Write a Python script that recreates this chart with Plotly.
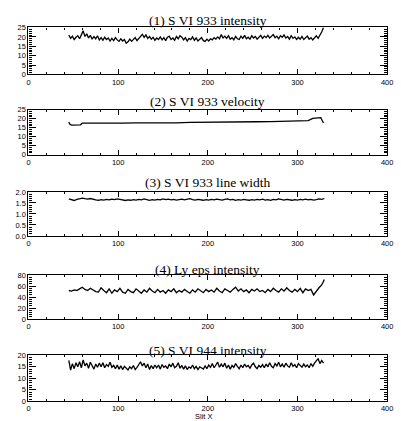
import plotly.graph_objs as go

W, H = 401, 421

# sampling grid of the slit positions
x_fine = list(range(45, 330, 2))      # panels 1 and 5
x_coarse = list(range(45, 331, 3))    # panels 3 and 4

s6_933_int = [
    21.0, 19.2, 20.4, 18.6, 19.8, 20.6, 19.0, 21.4, 23.2, 20.2,
    21.6, 19.4, 20.8, 18.8, 20.2, 19.0, 20.6, 18.4, 19.6, 18.2,
    19.8, 18.6, 19.4, 17.8, 19.2, 18.0, 19.6, 18.4, 17.6, 19.0,
    17.8, 18.6, 16.6, 17.4, 18.8, 17.6, 18.4, 19.6, 18.0, 19.2,
    20.6, 21.4, 19.8, 21.0, 19.2, 20.2, 18.8, 19.8, 18.2, 19.4,
    18.6, 20.0, 18.4, 19.6, 18.0, 19.8, 20.4, 18.6, 19.4, 18.2,
    20.2, 19.0, 20.6, 19.8, 18.4, 19.6, 17.8, 19.2, 18.6, 20.0,
    18.2, 19.4, 17.8, 18.8, 19.6, 18.0, 17.6, 18.8, 17.8, 19.0,
    18.4, 19.6, 18.8, 20.0, 19.0, 21.2, 19.4, 20.4, 19.2, 20.6,
    18.8, 19.6, 18.4, 20.2, 19.0, 18.6, 20.4, 19.2, 20.8, 19.0,
    19.8, 18.8, 20.6, 19.4, 20.2, 18.8, 19.6, 20.8, 19.2, 20.4,
    19.6, 20.8, 19.4, 20.2, 21.2, 19.6, 20.4, 19.0, 20.6, 19.8,
    21.0, 19.4, 20.2, 18.8, 20.6, 19.2, 20.0, 18.6, 19.8, 18.8,
    20.2, 18.6, 19.4, 20.4, 18.8, 19.6, 18.4, 19.8, 20.6, 19.2,
    20.8, 22.6, 25.0]

x_vel = [45, 46, 48, 57, 58, 60, 75, 90, 105, 120, 135, 150, 165, 180, 195,
         210, 225, 240, 255, 270, 285, 300, 312, 317, 321, 326, 329]
s6_933_vel = [18.2, 17.0, 16.4, 16.4, 16.6, 17.5, 17.4, 17.6, 17.5, 17.7,
              17.6, 17.8, 17.7, 17.9, 17.9, 18.0, 18.1, 18.2, 18.3, 18.4,
              18.5, 18.7, 18.9, 20.2, 20.4, 20.6, 17.6]

s6_933_width = [
    1.68, 1.64, 1.61, 1.66, 1.70, 1.72, 1.69, 1.67, 1.70, 1.66,
    1.64, 1.62, 1.65, 1.63, 1.66, 1.64, 1.67, 1.65, 1.68, 1.66,
    1.63, 1.61, 1.64, 1.62, 1.65, 1.63, 1.66, 1.64, 1.68, 1.65,
    1.62, 1.65, 1.63, 1.66, 1.64, 1.68, 1.65, 1.67, 1.64, 1.66,
    1.63, 1.65, 1.67, 1.64, 1.66, 1.69, 1.65, 1.63, 1.66, 1.64,
    1.62, 1.65, 1.63, 1.66, 1.64, 1.67, 1.65, 1.63, 1.66, 1.68,
    1.64, 1.66, 1.62, 1.65, 1.63, 1.66, 1.64, 1.62, 1.65, 1.63,
    1.66, 1.64, 1.67, 1.63, 1.65, 1.62, 1.66, 1.64, 1.68, 1.65,
    1.63, 1.66, 1.64, 1.62, 1.65, 1.63, 1.66, 1.64, 1.67, 1.64,
    1.66, 1.63, 1.65, 1.68, 1.66, 1.70]

ly_eps_int = [
    52, 51, 53, 52, 55, 58, 54, 52, 56, 53,
    50, 49, 57, 52, 48, 55, 47, 53, 50, 56,
    49, 47, 54, 50, 48, 55, 51, 47, 53, 49,
    56, 51, 48, 54, 49, 52, 47, 53, 50, 55,
    48, 52, 49, 54, 50, 47, 53, 49, 55, 51,
    48, 54, 50, 53, 49, 56, 51, 48, 55, 52,
    49, 54, 58, 51, 55, 50, 53, 48, 54, 51,
    55, 50, 52, 48, 54, 50, 56, 52, 49, 55,
    51, 57, 52, 49, 54, 50, 56, 48, 55, 52,
    54, 44, 51, 57, 62, 72]

s6_944_int = [
    17.8, 13.6, 16.4, 14.2, 16.8, 15.0, 17.2, 14.6, 18.0, 15.4,
    16.6, 14.4, 17.0, 15.2, 14.0, 16.2, 14.8, 16.6, 15.0, 16.8,
    14.6, 16.0, 15.2, 17.0, 14.8, 15.6, 14.2, 15.8, 14.0, 15.4,
    13.8, 15.2, 14.4, 13.6, 15.0, 14.2, 15.6, 13.8, 14.8, 15.8,
    17.2, 15.4, 16.6, 14.6, 16.2, 13.8, 15.6, 14.2, 15.8, 14.6,
    15.8, 14.0, 16.0, 14.8, 15.4, 14.2, 16.2, 15.0, 16.6, 14.6,
    15.2, 16.8, 14.4, 15.6, 14.0, 15.4, 13.8, 15.0, 14.4, 15.8,
    14.2, 15.2, 13.8, 15.0, 14.6, 14.0, 15.4, 14.2, 15.8, 14.8,
    16.4, 14.6, 15.8, 17.0, 14.8, 16.2, 15.0, 16.6, 14.4, 15.8,
    14.0, 15.6, 14.8, 16.4, 15.2, 14.2, 15.8, 14.6, 16.2, 15.0,
    15.6, 14.4, 15.8, 16.6, 15.0, 14.2, 15.6, 14.8, 16.0, 14.6,
    16.2, 15.0, 16.8, 15.2, 14.6, 16.4, 15.4, 17.0, 15.0, 16.2,
    14.8, 16.6, 15.4, 14.8, 16.8, 15.2, 16.0, 14.6, 16.4, 15.6,
    14.8, 16.2, 15.0, 15.8, 14.6, 16.4, 15.2, 16.6, 17.4, 18.6,
    16.4, 17.8, 16.6]

titles = ["(1) S VI 933 intensity", "(2) S VI 933 velocity",
          "(3) S VI 933 line width", "(4) Ly eps intensity",
          "(5) S VI 944 intensity"]

# (x, y, y-range, major step, minor step, tick format)
panels = [
    (x_fine, s6_933_int, 25, 5, 1, "d"),
    (x_vel, s6_933_vel, 25, 5, 1, "d"),
    (x_coarse, s6_933_width, 2.0, 0.5, 0.1, ".1f"),
    (x_coarse, ly_eps_int, 80, 20, 4, "d"),
    (x_fine, s6_944_int, 20, 5, 1, "d"),
]

# pixel boxes of each panel (top, bottom) and title centre
boxes = [(24, 72), (108, 154), (192, 237), (277, 322), (359, 406)]
title_y = [17, 100, 182, 271, 354]
left_px, right_px = 27, 393

tick_font = dict(family="Liberation Sans", size=7.5, color="black")

fig = go.Figure()
layout = dict(width=W, height=H, margin=dict(l=0, r=0, t=0, b=0),
              paper_bgcolor="white", plot_bgcolor="white",
              showlegend=False, annotations=[])

for i, (xs, ys, ymax, major, minor, fmt) in enumerate(panels):
    n = "" if i == 0 else str(i + 1)
    fig.add_trace(go.Scatter(x=xs, y=ys, mode="lines",
                             line=dict(color="black", width=1.3),
                             xaxis="x" + n, yaxis="y" + n))
    top, bot = boxes[i]
    layout["xaxis" + n] = dict(
        domain=[left_px / W, right_px / W], range=[0, 400],
        anchor="y" + n, tickmode="linear", tick0=0, dtick=100,
        ticks="inside", ticklen=5, tickcolor="black", tickwidth=1,
        minor=dict(ticks="inside", ticklen=2, dtick=20, tickcolor="black"),
        showline=True, linecolor="black", linewidth=1.2, mirror="allticks",
        showgrid=False, zeroline=False, tickfont=tick_font,
        ticklabeloverflow="allow")
    layout["yaxis" + n] = dict(
        domain=[1 - bot / H, 1 - top / H], range=[0, ymax],
        anchor="x" + n, tickmode="linear", tick0=0, dtick=major,
        tickformat=fmt,
        ticks="inside", ticklen=7, tickcolor="black", tickwidth=1,
        minor=dict(ticks="inside", ticklen=3, dtick=minor, tickcolor="black"),
        showline=True, linecolor="black", linewidth=1.2, mirror="allticks",
        showgrid=False, zeroline=False, tickfont=tick_font,
        ticklabeloverflow="allow")
    layout["annotations"].append(dict(
        text=titles[i], x=210 / W, y=1 - title_y[i] / H,
        xref="paper", yref="paper", xanchor="center", yanchor="middle",
        showarrow=False,
        font=dict(family="Liberation Serif", size=13.5, color="black")))

layout["annotations"].append(dict(
    text="Slit X", x=206 / W, y=1 - 421 / H, xref="paper", yref="paper",
    xanchor="center", yanchor="middle", showarrow=False, font=tick_font))

fig.update_layout(**layout)
# the page body has a default margin; drop it so the figure fills the window
fig.write_html("out.html", config={"displayModeBar": False},
               post_script="document.body.style.margin='0';"
                           "document.body.style.overflow='hidden';")
